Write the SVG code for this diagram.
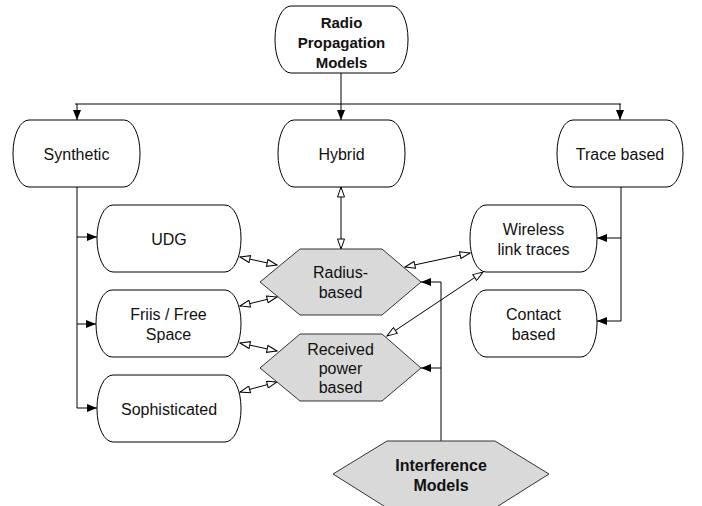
<svg xmlns="http://www.w3.org/2000/svg" width="702" height="506" viewBox="0 0 702 506">
<defs>
<marker id="fa" viewBox="0 0 10 8" refX="10" refY="4" markerWidth="10" markerHeight="8" markerUnits="userSpaceOnUse" orient="auto"><path d="M0,0 L10,4 L0,8 Z" fill="#000"/></marker>
<marker id="oa" viewBox="0 0 12 8" refX="11" refY="4" markerWidth="12" markerHeight="8" markerUnits="userSpaceOnUse" orient="auto-start-reverse"><path d="M1,0.5 L11,4 L1,7.5 Z" fill="#fff" stroke="#000" stroke-width="1"/></marker>
</defs>
<style>
.n{fill:#fff;stroke:#000;stroke-width:1}
.h{fill:#d9d9d9;stroke:#333;stroke-width:1}
text{font-family:"Liberation Sans",Arial,Helvetica,sans-serif;font-size:16px;fill:#111;text-anchor:middle;dominant-baseline:central}
.b{font-weight:bold}
.c{fill:none;stroke:#000;stroke-width:1}
.t{marker-end:url(#fa)}
.d{marker-start:url(#oa);marker-end:url(#oa)}
</style>
<rect width="702" height="506" fill="#fff"/>
<g id="connectors">
<path class="c" d="M341,73 V104"/>
<path class="c" d="M75,104 H621"/>
<path class="c t" d="M77,104 V120"/>
<path class="c t" d="M341,104 V120"/>
<path class="c t" d="M620,104 V120"/>
<path class="c" d="M77,187 V408"/>
<path class="c t" d="M77,237 H97"/>
<path class="c t" d="M77,324 H96"/>
<path class="c t" d="M77,408 H97"/>
<path class="c" d="M621,187 V321"/>
<path class="c t" d="M621,238 H597"/>
<path class="c t" d="M621,321 H597"/>
<path class="c" d="M441,441 V282"/>
<path class="c t" d="M441,282 H421"/>
<path class="c t" d="M441,368 H421"/>
<path class="c d" d="M341,187 V249"/>
<path class="c d" d="M240,257 L277,265"/>
<path class="c d" d="M240,306 L277,297"/>
<path class="c d" d="M240,343 L277,351"/>
<path class="c d" d="M240,392 L277,382"/>
<path class="c d" d="M405,267 L470,253"/>
<path class="c d" d="M387,336 L483,272"/>
</g>
<g id="radio">
<rect class="n" x="275" y="6" width="133" height="67" rx="16" ry="33"/>
<text class="b" x="341.5" y="22" style="font-size:15px">Radio</text>
<text class="b" x="341.5" y="42" style="font-size:15px">Propagation</text>
<text class="b" x="341.5" y="62" style="font-size:15px">Models</text>
</g>
<g id="synthetic">
<rect class="n" x="13" y="120" width="127" height="67" rx="16" ry="33"/>
<text x="76.5" y="154">Synthetic</text>
</g>
<g id="hybrid">
<rect class="n" x="278" y="120" width="127" height="67" rx="16" ry="33"/>
<text x="341.5" y="154">Hybrid</text>
</g>
<g id="trace">
<rect class="n" x="557" y="120" width="126" height="67" rx="16" ry="33"/>
<text x="620" y="154">Trace based</text>
</g>
<g id="udg">
<rect class="n" x="97" y="205" width="144" height="67" rx="16" ry="33"/>
<text x="169" y="239">UDG</text>
</g>
<g id="friis">
<rect class="n" x="96" y="290" width="145" height="67" rx="16" ry="33"/>
<text x="168.5" y="314">Friis / Free</text>
<text x="168.5" y="334">Space</text>
</g>
<g id="sophisticated">
<rect class="n" x="97" y="375" width="144" height="67" rx="16" ry="33"/>
<text x="169" y="409">Sophisticated</text>
</g>
<g id="wireless">
<rect class="n" x="470" y="205" width="127" height="67" rx="16" ry="33"/>
<text x="533.5" y="229">Wireless</text>
<text x="533.5" y="249">link traces</text>
</g>
<g id="contact">
<rect class="n" x="470" y="290" width="127" height="67" rx="16" ry="33"/>
<text x="533.5" y="314">Contact</text>
<text x="533.5" y="334">based</text>
</g>
<g id="radius">
<polygon class="h" points="260,282 300,249 382,249 421,282 382,315 300,315"/>
<text x="340.5" y="272">Radius-</text>
<text x="340.5" y="292">based</text>
</g>
<g id="received">
<polygon class="h" points="260,368 300,334 382,334 421,368 382,401 300,401"/>
<text x="340.5" y="349">Received</text>
<text x="340.5" y="368">power</text>
<text x="340.5" y="387">based</text>
</g>
<g id="interference">
<polygon class="h" points="333,474 387,441 495,441 549,474 495,508 387,508"/>
<text class="b" x="441" y="465">Interference</text>
<text class="b" x="441" y="485">Models</text>
</g>
</svg>
